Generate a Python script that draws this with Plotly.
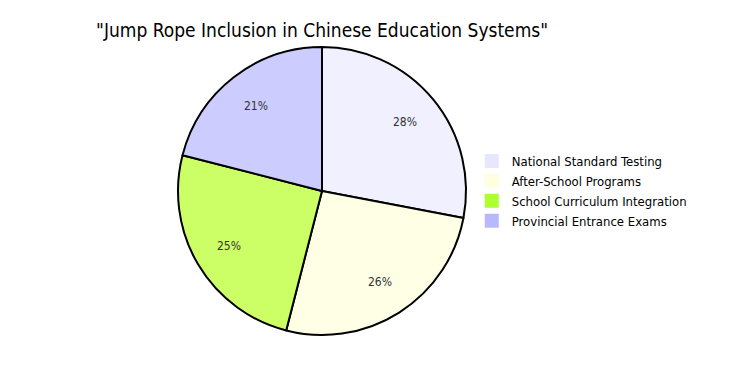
import math
import plotly.graph_objects as go

categories = ["National Standard Testing", "After-School Programs",
              "School Curriculum Integration", "Provincial Entrance Exams"]
values = [28, 26, 25, 21]
slice_colors = ["#F0F0FF", "#FFFFE6", "#CCFF66", "#CCCCFF"]
legend_colors = ["#E6E6FF", "#FFFFE0", "#ADFF2F", "#B8B8FF"]

FONT = "DejaVu Sans Condensed, DejaVu Sans"

fig = go.Figure()
fig.add_trace(go.Pie(
    labels=categories,
    values=values,
    marker=dict(colors=slice_colors, line=dict(color="#000000", width=2)),
    textinfo="none",
    sort=False,
    direction="clockwise",
    rotation=0,
    showlegend=False,
    domain=dict(x=[0, 1], y=[0, 1]),
))
for cat, col in zip(categories, legend_colors):
    fig.add_trace(go.Scatter(
        x=[None], y=[None], mode="markers", name=cat,
        marker=dict(symbol="square", size=14, color=col, line=dict(width=0)),
    ))

# percentage labels placed at 75% of the radius along each slice's mid-angle
total = sum(values)
cum = 0.0
for v in values:
    mid = (cum + v / 2) / total * 2 * math.pi
    cum += v
    fig.add_annotation(
        x=0.5 + 0.375 * math.sin(mid), y=0.5 + 0.375 * math.cos(mid),
        xref="paper", yref="paper", showarrow=False,
        xanchor="center", yanchor="middle",
        text=f"{round(v / total * 100)}%",
        font=dict(size=12, color="#333333", family=FONT),
    )

fig.update_layout(
    title=dict(text='"Jump Rope Inclusion in Chinese Education Systems"',
               x=0.416, xref="container", xanchor="center",
               y=0.943, yref="container", yanchor="middle",
               font=dict(size=19, color="#000000", family=FONT)),
    font=dict(family=FONT, size=12, color="#000000"),
    width=755, height=384,
    margin=dict(l=170, r=297, t=39, b=57, autoexpand=False),
    legend=dict(x=1.02, y=0.5, yanchor="middle", xanchor="left",
                font=dict(size=13, color="#000000", family=FONT)),
    xaxis=dict(visible=False),
    yaxis=dict(visible=False),
    paper_bgcolor="white",
    plot_bgcolor="white",
)

fig.write_html("out.html")
